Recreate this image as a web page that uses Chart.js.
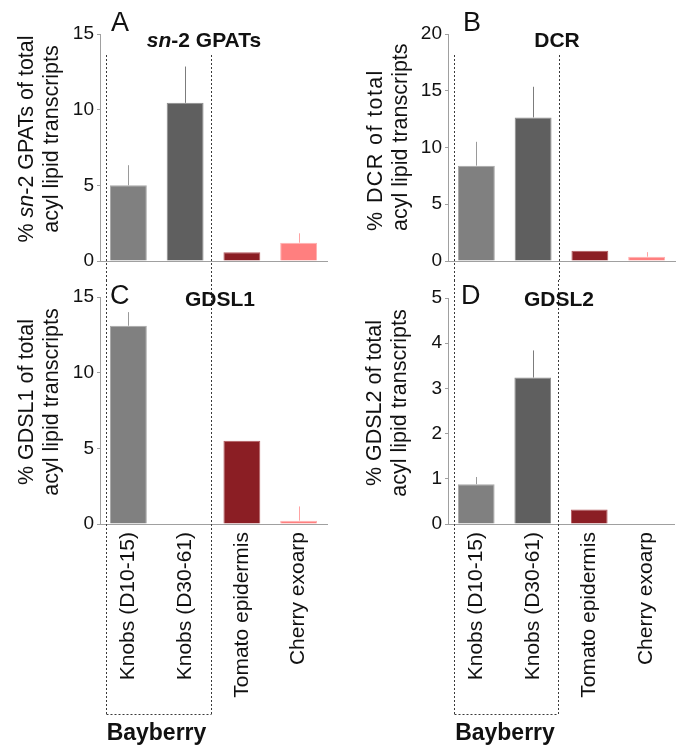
<!DOCTYPE html>
<html><head><meta charset="utf-8">
<script src="https://cdn.jsdelivr.net/npm/chart.js@4.4.0/dist/chart.umd.min.js"></script>
<style>
html,body{margin:0;padding:0;background:#fff;width:681px;height:748px;overflow:hidden;font-family:'Liberation Sans',Arial,sans-serif;color:#111;}
canvas{position:absolute;}
.t{position:absolute;line-height:1;white-space:nowrap;}
.letter{font-size:27px;}
.title{font-size:21px;font-weight:bold;width:300px;text-align:center;}
.bay{font-size:23px;font-weight:bold;width:300px;text-align:center;}
.yt{position:absolute;left:0;top:0;transform-origin:0 0;font-size:21.5px;line-height:25px;width:260px;text-align:center;white-space:nowrap;color:#111;}
</style></head><body>
<canvas id="cA" width="340" height="280" style="left:0px;top:0px"></canvas>
<canvas id="cB" width="333" height="280" style="left:348px;top:0px"></canvas>
<canvas id="cC" width="340" height="468" style="left:0px;top:280px"></canvas>
<canvas id="cD" width="333" height="468" style="left:348px;top:280px"></canvas>

<div class="t letter" style="left:111px;top:8.8px">A</div>
<div class="t letter" style="left:463px;top:8.8px">B</div>
<div class="t letter" style="left:110px;top:282px">C</div>
<div class="t letter" style="left:461px;top:282px">D</div>

<div class="t title" style="left:54px;top:28.8px"><i>sn</i>-2 GPATs</div>
<div class="t title" style="left:407px;top:28.8px">DCR</div>
<div class="t title" style="left:70px;top:288.2px">GDSL1</div>
<div class="t title" style="left:409px;top:288.2px">GDSL2</div>

<div class="yt" style="transform:translate(14px,269px) rotate(-90deg)">% <i>sn</i>-2 GPATs of total<br>acyl lipid transcripts</div>
<div class="yt" style="transform:translate(363px,231px) rotate(-90deg);text-align:left"><span style="letter-spacing:1.4px">% DCR of total</span><br>acyl lipid transcripts</div>
<div class="yt" style="transform:translate(13.5px,532px) rotate(-90deg)">% GDSL1 of total<br>acyl lipid transcripts</div>
<div class="yt" style="transform:translate(362px,533px) rotate(-90deg)">% GDSL2 of total<br>acyl lipid transcripts</div>

<div class="t bay" style="left:6.5px;top:720.5px">Bayberry</div>
<div class="t bay" style="left:355px;top:720.5px">Bayberry</div>

<script>
const categories = ['Knobs (D10-15)', 'Knobs (D30-61)', 'Tomato epidermis', 'Cherry exoarp'];
const gpatValues = [5.0, 10.45, 0.57, 1.21];
const gpatErrors = [1.33, 2.4, 0, 0.62];
const dcrValues = [8.4, 12.65, 0.9, 0.38];
const dcrErrors = [2.1, 2.7, 0, 0.4];
const gdsl1Values = [13.1, 0, 5.5, 0.22];
const gdsl1Errors = [0.9, 0, 0, 0.94];
const gdsl2Values = [0.88, 3.24, 0.32, 0];
const gdsl2Errors = [0.16, 0.6, 0, 0];
const gpatTicks = [0, 5, 10, 15];
const dcrTicks = [0, 5, 10, 15, 20];
const gdsl1Ticks = [0, 5, 10, 15];
const gdsl2Ticks = [0, 1, 2, 3, 4, 5];

const barColors = ['#808080', '#5f5f5f', '#8b1e24', '#ff7f7f'];
const barBorders = ['#a8a8a8', '#8c8c8c', '#b35a5e', '#ffb0b0'];
const errColors = ['#9a9a9a', '#7c7c7c', '#a84a4e', '#ffa3a3'];
const FONT = "'Liberation Sans', Arial, sans-serif";

function errorPlugin(errors) {
  return {
    id: 'errbars',
    afterDatasetsDraw(chart) {
      const {ctx, scales: {x, y}} = chart;
      const vals = chart.data.datasets[0].data;
      ctx.save();
      ctx.lineWidth = 1;
      errors.forEach((e, i) => {
        if (!e) return;
        const px = Math.round(x.getPixelForValue(i)) + 0.5;
        ctx.strokeStyle = errColors[i];
        ctx.beginPath();
        ctx.moveTo(px, y.getPixelForValue(vals[i]));
        ctx.lineTo(px, y.getPixelForValue(vals[i] + e));
        ctx.stroke();
      });
      ctx.restore();
    }
  };
}

function dividerPlugin(mode) {
  return {
    id: 'divider',
    afterDraw(chart) {
      const {ctx, chartArea, scales: {x}} = chart;
      const x1 = Math.round(chartArea.left + 5.5) + 0.5;
      const x2 = Math.round((x.getPixelForValue(1) + x.getPixelForValue(2)) / 2 - 3) + 0.5;
      ctx.save();
      ctx.strokeStyle = '#3a3a3a';
      ctx.lineWidth = 1;
      ctx.setLineDash([2, 2]);
      ctx.beginPath();
      if (mode === 'top') {
        const y0 = chartArea.top + 21;
        [x1, x2].forEach(xx => { ctx.moveTo(xx, y0); ctx.lineTo(xx, chart.height); });
      } else {
        const yb = Math.round(chartArea.bottom + 190) + 0.5;
        [x1, x2].forEach(xx => { ctx.moveTo(xx, 0); ctx.lineTo(xx, yb); });
        ctx.moveTo(x1, yb); ctx.lineTo(x2, yb);
      }
      ctx.stroke();
      ctx.restore();
    }
  };
}

function makeChart(id, values, errors, ticks, opts) {
  return new Chart(document.getElementById(id), {
    type: 'bar',
    data: {
      labels: categories,
      datasets: [{
        data: values,
        backgroundColor: barColors,
        borderColor: barBorders,
        borderWidth: 1,
        categoryPercentage: 1,
        barPercentage: 0.65
      }]
    },
    options: {
      responsive: false,
      animation: false,
      devicePixelRatio: 1,
      layout: { padding: opts.padding },
      plugins: { legend: { display: false }, tooltip: { enabled: false }, title: { display: false } },
      scales: {
        x: {
          grid: { display: false, drawTicks: false },
          border: { display: true, color: '#a0a0a0', width: 1 },
          ticks: opts.showLabels ? {
            display: true, autoSkip: false, maxRotation: 90, minRotation: 90, padding: 8,
            font: { family: FONT, size: 21 }, color: '#111'
          } : { display: false },
          afterFit: s => { s.height = opts.xHeight; }
        },
        y: {
          min: 0,
          max: ticks[ticks.length - 1],
          grid: { display: true, drawOnChartArea: false, drawTicks: true, tickLength: 3, color: '#a0a0a0' },
          border: { display: true, color: '#a0a0a0', width: 1 },
          ticks: { font: { family: FONT, size: 19 }, color: '#111', padding: 3 },
          afterBuildTicks: s => { s.ticks = ticks.map(v => ({ value: v })); },
          afterFit: s => { s.width = 100; }
        }
      }
    },
    plugins: [errorPlugin(errors), dividerPlugin(opts.divider)]
  });
}

makeChart('cA', gpatValues, gpatErrors, gpatTicks,
  { padding: { top: 34, right: 13, bottom: 19, left: 0 }, xHeight: 0, showLabels: false, divider: 'top' });
makeChart('cB', dcrValues, dcrErrors, dcrTicks,
  { padding: { top: 34, right: 6, bottom: 19, left: 0 }, xHeight: 0, showLabels: false, divider: 'top' });
makeChart('cC', gdsl1Values, gdsl1Errors, gdsl1Ticks,
  { padding: { top: 17, right: 13, bottom: 24, left: 0 }, xHeight: 200, showLabels: true, divider: 'bottom' });
makeChart('cD', gdsl2Values, gdsl2Errors, gdsl2Ticks,
  { padding: { top: 18, right: 7, bottom: 24, left: 0 }, xHeight: 200, showLabels: true, divider: 'bottom' });
</script>
</body></html>
